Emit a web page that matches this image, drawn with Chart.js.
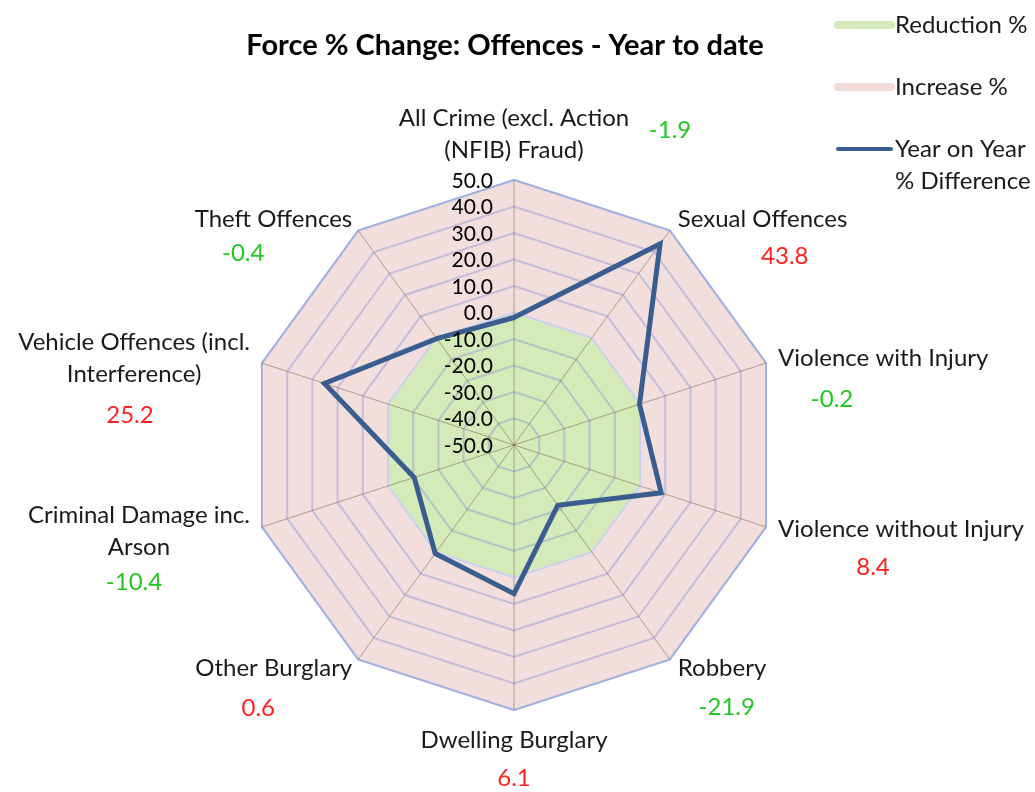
<!DOCTYPE html>
<html>
<head>
<meta charset="utf-8">
<title>Force % Change: Offences - Year to date</title>
<script src="https://cdn.jsdelivr.net/npm/chart.js@4.4.1/dist/chart.umd.min.js"></script>
<style>
  html, body { margin: 0; padding: 0; background: #fff; }
  #radar { display: block; }
</style>
</head>
<body>
<canvas id="radar" width="1035" height="792"></canvas>
<script>
// chart data
const categories = [
  ['All Crime (excl. Action', '(NFIB) Fraud)'],
  ['Sexual Offences'],
  ['Violence with Injury'],
  ['Violence without Injury'],
  ['Robbery'],
  ['Dwelling Burglary'],
  ['Other Burglary'],
  ['Criminal Damage inc.', 'Arson'],
  ['Vehicle Offences (incl.', 'Interference)'],
  ['Theft Offences']
];
const yearOnYear = [-1.9, 43.8, -0.2, 8.4, -21.9, 6.1, 0.6, -10.4, 25.2, -0.4];
const reductionBand = [0, 0, 0, 0, 0, 0, 0, 0, 0, 0];
const increaseBand = [50, 50, 50, 50, 50, 50, 50, 50, 50, 50];
const tickValues = [50, 40, 30, 20, 10, 0, -10, -20, -30, -40, -50];

const FONT = "Lato, Carlito, Calibri, 'Noto Sans', sans-serif";

// where each category label and its value sit, relative to the outer vertex
const labelLayout = [
  { align: 'center', dx: 0,   dy: -62, vdx: 156,  vdy: -50 },
  { align: 'left',   dx: 8,   dy: -11, vdx: 115,  vdy: 26 },
  { align: 'left',   dx: 12,  dy: -5,  vdx: 66,   vdy: 36 },
  { align: 'left',   dx: 12,  dy: 2,   vdx: 107,  vdy: 40 },
  { align: 'left',   dx: 8,   dy: 9,   vdx: 57,   vdy: 48 },
  { align: 'center', dx: 0,   dy: 30,  vdx: 0,    vdy: 68 },
  { align: 'right',  dx: -6,  dy: 9,   vdx: -100, vdy: 49 },
  { align: 'right',  dx: -12, dy: -12, vdx: -128, vdy: 55 },
  { align: 'right',  dx: -12, dy: -21, vdx: -132, vdy: 52 },
  { align: 'right',  dx: -6,  dy: -11, vdx: -115, vdy: 23 }
];

const legendItems = [
  { text: ['Reduction %'], color: '#d3e9b8', width: 8, y: 25 },
  { text: ['Increase %'], color: '#f2dcdb', width: 8, y: 87 },
  { text: ['Year on Year', '% Difference'], color: '#3a5d8f', width: 4, y: 149 }
];

// grid goes over the fills but under the difference line
const gridOverFills = {
  id: 'gridOverFills',
  beforeDatasetDraw(chart, args) {
    if (args.index === 0) {
      chart.scales.r.drawGrid(chart.chartArea);
    }
  }
};

const annotations = {
  id: 'annotations',
  afterDraw(chart) {
    const ctx = chart.ctx;
    const scale = chart.scales.r;
    ctx.save();

    // title
    ctx.fillStyle = '#000';
    ctx.font = "bold 29px " + FONT;
    ctx.textAlign = 'center';
    ctx.textBaseline = 'middle';
    ctx.fillText('Force % Change: Offences - Year to date', 505, 46);

    // tick labels, left of the vertical axis
    ctx.font = "21px " + FONT;
    ctx.textAlign = 'right';
    tickValues.forEach(v => {
      const y = scale.yCenter - scale.getDistanceFromCenterForValue(v);
      ctx.fillText(v.toFixed(1), scale.xCenter - 21, y + 1);
    });

    // category labels + values
    ctx.font = "24px " + FONT;
    const lineH = 32;
    categories.forEach((lines, i) => {
      const p = scale.getPointPosition(i, scale.drawingArea);
      const lay = labelLayout[i];
      const blockW = Math.max(...lines.map(l => ctx.measureText(l).width));
      let cx;
      if (lay.align === 'left') cx = p.x + lay.dx + blockW / 2;
      else if (lay.align === 'right') cx = p.x + lay.dx - blockW / 2;
      else cx = p.x + lay.dx;
      ctx.fillStyle = '#1a1a1a';
      ctx.textAlign = 'center';
      lines.forEach((l, k) => {
        ctx.fillText(l, cx, p.y + lay.dy + k * lineH);
      });

      const v = yearOnYear[i];
      ctx.fillStyle = v < 0 ? '#22c722' : '#ff2020';
      ctx.fillText(v.toFixed(1), p.x + lay.vdx, p.y + lay.vdy);
    });

    // legend
    ctx.lineCap = 'round';
    legendItems.forEach(item => {
      ctx.strokeStyle = item.color;
      ctx.lineWidth = item.width;
      ctx.beginPath();
      ctx.moveTo(838, item.y);
      ctx.lineTo(891, item.y);
      ctx.stroke();
      ctx.fillStyle = '#1a1a1a';
      ctx.textAlign = 'left';
      item.text.forEach((t, k) => ctx.fillText(t, 895, item.y + k * 32));
    });

    ctx.restore();
  }
};

new Chart(document.getElementById('radar').getContext('2d'), {
  type: 'radar',
  data: {
    labels: categories,
    datasets: [
      {
        label: 'Year on Year % Difference',
        data: yearOnYear,
        borderColor: '#3a5d8f',
        borderWidth: 5,
        backgroundColor: 'transparent',
        fill: false,
        pointRadius: 0,
        tension: 0
      },
      {
        label: 'Reduction %',
        data: reductionBand,
        borderColor: 'rgba(255,255,255,0.9)',
        borderWidth: 2,
        backgroundColor: '#d4eab9',
        fill: 'start',
        pointRadius: 0
      },
      {
        label: 'Increase %',
        data: increaseBand,
        borderWidth: 0,
        borderColor: 'transparent',
        backgroundColor: '#f2dedc',
        fill: 'start',
        pointRadius: 0
      }
    ]
  },
  options: {
    responsive: false,
    animation: false,
    layout: { padding: { left: 100, right: 107, top: 180, bottom: 82 } },
    plugins: {
      legend: { display: false },
      title: { display: false },
      tooltip: { enabled: false }
    },
    scales: {
      r: {
        min: -50,
        max: 50,
        startAngle: 0,
        ticks: { stepSize: 10, display: false },
        pointLabels: { display: false },
        grid: {
          color: ctx => ctx.tick && ctx.tick.value === 50 ? 'rgba(150,170,225,0.8)' : 'rgba(130,140,220,0.4)',
          lineWidth: 2
        },
        angleLines: {
          color: 'rgba(120,90,60,0.5)',
          lineWidth: 1
        }
      }
    }
  },
  plugins: [gridOverFills, annotations]
});
</script>
</body>
</html>
